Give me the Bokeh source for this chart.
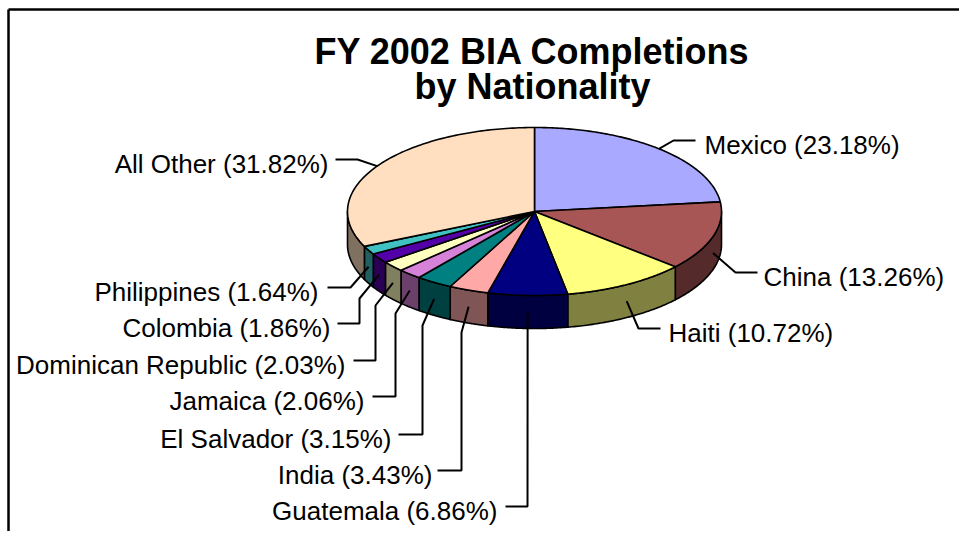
import numpy as np
from bokeh.plotting import figure
from bokeh.models import Range1d
from bokeh.core.properties import value
from bokeh.embed import file_html
from bokeh.resources import INLINE

# ---------------- data ----------------
countries = ["Mexico", "China", "Haiti", "Guatemala", "India", "El Salvador",
             "Jamaica", "Dominican Republic", "Colombia", "Philippines", "All Other"]
percents = [23.18, 13.26, 10.72, 6.86, 3.43, 3.15, 2.06, 2.03, 1.86, 1.64, 31.82]
title_lines = ["FY 2002 BIA Completions", "by Nationality"]

# ---------------- style ----------------
top_colors = ["#A9A9FF", "#A85555", "#FFFF80", "#000080", "#FFA8A8", "#008080",
              "#D582D8", "#FFFFC0", "#5400A8", "#40C0C0", "#FFDFC0"]
side_colors = ["#555580", "#552A2A", "#808040", "#000040", "#805555", "#004040",
               "#6B416C", "#808060", "#2A0054", "#206060", "#807060"]

# label layout (screen px): (text x, leader y, align, elbow points from label side)
layout = {
    "Mexico":             (704, 140, "left",  [(695, 140), (673, 140)]),
    "China":              (763, 272, "left",  [(757, 272), (735, 272)]),
    "Haiti":              (668, 328, "left",  [(660, 328), (638, 328)]),
    "Guatemala":          (497, 506, "right", [(505, 506), (527, 506)]),
    "India":              (432, 470, "right", [(437, 470), (461, 470), (461, 332)]),
    "El Salvador":        (391, 434, "right", [(398, 434), (422, 434), (422, 325)]),
    "Jamaica":            (364, 396, "right", [(372, 396), (395, 396), (395, 313)]),
    "Dominican Republic": (345, 360, "right", [(353, 360), (375, 360), (375, 305)]),
    "Colombia":           (330, 323, "right", [(337, 323), (359, 323), (359, 298)]),
    "Philippines":        (318, 287, "right", [(327, 287), (350, 287)]),
    "All Other":          (328, 159, "right", [(335, 159), (357, 159)]),
}

W, H = 959, 531
p = figure(width=W, height=H, x_range=Range1d(0, W), y_range=Range1d(H, 0),
           output_backend="svg", toolbar_location=None,
           x_axis_type=None, y_axis_type=None, min_border=0)
p.outline_line_color = None
p.background_fill_color = "white"
p.border_fill_color = "white"

CX, CY, RX, RY, DEPTH = 534.0, 211.0, 187.0, 84.0, 33.0

vals = np.array(percents, dtype=float)
frac = vals / vals.sum()
ends = np.cumsum(frac) * 360.0
starts = ends - frac * 360.0


def rim(t):
    r = np.radians(t)
    return CX + RX * np.sin(r), CY - RY * np.cos(r)


# side faces (front half of the disc)
sx, sy, sc = [], [], []
for i in range(len(countries)):
    a, b = max(starts[i], 90.0), min(ends[i], 270.0)
    if a < b:
        ts = np.linspace(a, b, 60)
        x, y = rim(ts)
        sx.append(list(x) + list(x[::-1]))
        sy.append(list(y) + list((y + DEPTH)[::-1]))
        sc.append(side_colors[i])
p.patches(sx, sy, fill_color=sc, line_color="black", line_width=1.6, line_join="round")

# top faces
tx, ty = [], []
for i in range(len(countries)):
    ts = np.linspace(starts[i], ends[i], 120)
    x, y = rim(ts)
    tx.append([CX] + list(x))
    ty.append([CY] + list(y))
p.patches(tx, ty, fill_color=top_colors, line_color="black", line_width=1.6, line_join="round")

# leader lines and labels
lx, ly = [], []
groups = {"left": ([], [], []), "right": ([], [], [])}
for i, name in enumerate(countries):
    txt_x, lead_y, align, pts = layout[name]
    mid = (starts[i] + ends[i]) / 2.0
    ex, ey = rim(mid)
    if 90.0 < mid < 270.0:
        ey = ey + DEPTH / 2.0
    xs = [pt[0] for pt in pts] + [float(ex)]
    ys = [pt[1] for pt in pts] + [float(ey)]
    lx.append(xs)
    ly.append(ys)
    g = groups[align]
    g[0].append(txt_x)
    g[1].append(lead_y + 4)
    g[2].append(f"{name} ({percents[i]:.2f}%)")
p.multi_line(lx, ly, line_color="black", line_width=2)

for align, (gx, gy, gt) in groups.items():
    p.text(x=gx, y=gy, text=gt, text_align=align, text_baseline="alphabetic",
           text_font=value("Liberation Sans"), text_font_size=value("26px"),
           text_color="black")

# title
p.text(x=[532, 532], y=[51, 86], text=title_lines, text_align="center",
       text_baseline="alphabetic", text_font=value("Liberation Sans"),
       text_font_size=value("36px"), text_font_style="bold", text_color="black")

# chart border (top and left edges visible)
p.line([8, 8], [H, 9], line_color="black", line_width=2.5)
p.line([8, W], [9, 9], line_color="black", line_width=2.5)

open("out.html", "w").write(file_html(p, INLINE))
